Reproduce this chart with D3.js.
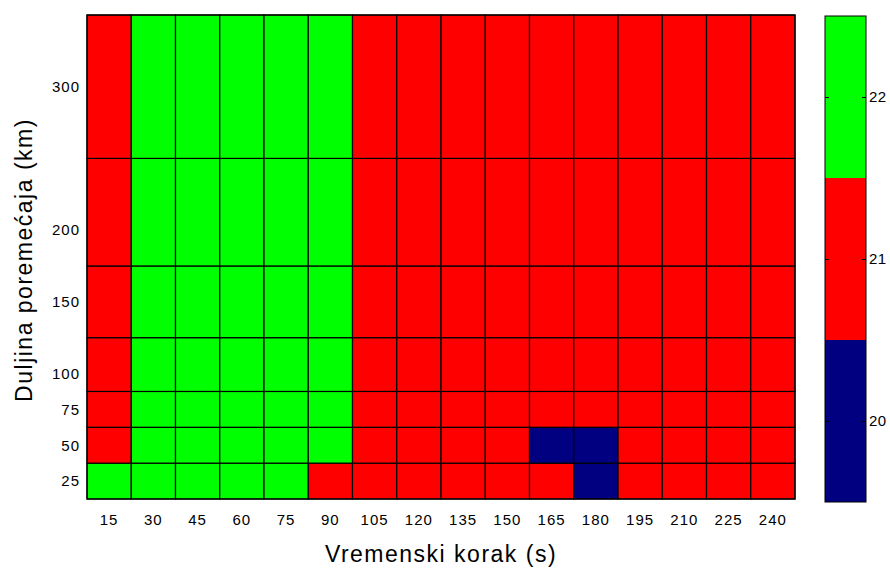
<!DOCTYPE html>
<html>
<head>
<meta charset="utf-8">
<script src="https://cdn.jsdelivr.net/npm/d3@7"></script>
<style>
  body { margin: 0; background: #fff; }
  text { font-family: "Liberation Sans", Arial, sans-serif; fill: #000; }
</style>
</head>
<body>
<script>
// time steps (s) along x, disturbance lengths (km) along y
var timeSteps = [15, 30, 45, 60, 75, 90, 105, 120, 135, 150, 165, 180, 195, 210, 225, 240];
var lengths = [25, 50, 75, 100, 150, 200, 300];
// one row per length, bottom (25) first
var values = [
  [22, 22, 22, 22, 22, 21, 21, 21, 21, 21, 21, 20, 21, 21, 21, 21],  // 25
  [21, 22, 22, 22, 22, 22, 21, 21, 21, 21, 20, 20, 21, 21, 21, 21],  // 50
  [21, 22, 22, 22, 22, 22, 21, 21, 21, 21, 21, 21, 21, 21, 21, 21],  // 75
  [21, 22, 22, 22, 22, 22, 21, 21, 21, 21, 21, 21, 21, 21, 21, 21],  // 100
  [21, 22, 22, 22, 22, 22, 21, 21, 21, 21, 21, 21, 21, 21, 21, 21],  // 150
  [21, 22, 22, 22, 22, 22, 21, 21, 21, 21, 21, 21, 21, 21, 21, 21],  // 200
  [21, 22, 22, 22, 22, 22, 21, 21, 21, 21, 21, 21, 21, 21, 21, 21]   // 300
];
var levels = [20, 21, 22];
var levelColors = ['#000080', '#ff0000', '#00ff00'];

var width = 890, height = 568;
var plot = {left: 87, right: 795, top: 15, bottom: 499};
var cbar = {left: 825, right: 866, top: 16, bottom: 502};
var tickFont = 15;

var svg = d3.select('body').append('svg')
  .attr('width', width)
  .attr('height', height);

var xScale = d3.scaleBand()
  .domain(timeSteps)
  .range([plot.left, plot.right]);

// cell edges sit halfway between neighbouring lengths
var yEdges = [12.5];
for (var i = 0; i < lengths.length - 1; i++) {
  yEdges.push((lengths[i] + lengths[i + 1]) / 2);
}
yEdges.push(350);

var yScale = d3.scaleLinear()
  .domain([yEdges[0], yEdges[yEdges.length - 1]])
  .range([plot.bottom, plot.top]);

var color = d3.scaleOrdinal().domain(levels).range(levelColors);

var cells = [];
values.forEach(function(row, r) {
  row.forEach(function(v, c) {
    cells.push({x: timeSteps[c], y0: yEdges[r], y1: yEdges[r + 1], v: v});
  });
});

svg.append('g')
  .selectAll('rect')
  .data(cells)
  .enter()
  .append('rect')
  .attr('x', function(d) { return xScale(d.x); })
  .attr('y', function(d) { return yScale(d.y1); })
  .attr('width', xScale.bandwidth())
  .attr('height', function(d) { return yScale(d.y0) - yScale(d.y1); })
  .attr('fill', function(d) { return color(d.v); })
  .attr('stroke', '#000')
  .attr('stroke-width', 1.2);

svg.append('rect')
  .attr('x', plot.left)
  .attr('y', plot.top)
  .attr('width', plot.right - plot.left)
  .attr('height', plot.bottom - plot.top)
  .attr('fill', 'none')
  .attr('stroke', '#000')
  .attr('stroke-width', 1.2);

function styleTicks(ax) {
  ax.select('.domain').remove();
  ax.selectAll('text')
    .attr('font-size', tickFont)
    .attr('font-family', '"Liberation Sans", Arial, sans-serif')
    .attr('fill', '#111')
    .style('letter-spacing', '1px');
}

// axes
var xAxis = svg.append('g')
  .attr('transform', 'translate(0,' + plot.bottom + ')')
  .call(d3.axisBottom(xScale).tickSize(0).tickPadding(15));
styleTicks(xAxis);
var yAxis = svg.append('g')
  .attr('transform', 'translate(' + plot.left + ',0)')
  .call(d3.axisLeft(yScale).tickValues(lengths).tickSize(0).tickPadding(7));
styleTicks(yAxis);

svg.append('text')
  .attr('x', (plot.left + plot.right) / 2)
  .attr('y', 562)
  .attr('text-anchor', 'middle')
  .attr('font-size', 23)
  .style('letter-spacing', '1.5px')
  .text('Vremenski korak (s)');

svg.append('text')
  .attr('transform', 'translate(32,' + ((plot.top + plot.bottom) / 2 + 3) + ') rotate(-90)')
  .attr('text-anchor', 'middle')
  .attr('font-size', 23)
  .style('letter-spacing', '1.5px')
  .text('Duljina poremećaja (km)');

// colorbar
var cScale = d3.scaleLinear()
  .domain([19.5, 22.5])
  .range([cbar.bottom, cbar.top]);

svg.append('g')
  .selectAll('rect')
  .data(levels)
  .enter()
  .append('rect')
  .attr('x', cbar.left)
  .attr('y', function(d) { return cScale(d + 0.5); })
  .attr('width', cbar.right - cbar.left)
  .attr('height', function(d) { return cScale(d - 0.5) - cScale(d + 0.5); })
  .attr('fill', function(d) { return color(d); });

svg.append('rect')
  .attr('x', cbar.left)
  .attr('y', cbar.top)
  .attr('width', cbar.right - cbar.left)
  .attr('height', cbar.bottom - cbar.top)
  .attr('fill', 'none')
  .attr('stroke', '#000')
  .attr('stroke-width', 1);

var cAxis = svg.append('g')
  .attr('transform', 'translate(' + cbar.right + ',0)')
  .call(d3.axisRight(cScale).tickValues(levels).tickSize(-4).tickPadding(3).tickFormat(d3.format('d')));
styleTicks(cAxis);
cAxis.selectAll('text').style('letter-spacing', '0.5px');
svg.append('g')
  .attr('transform', 'translate(' + cbar.left + ',0)')
  .call(d3.axisLeft(cScale).tickValues(levels).tickSize(-4).tickFormat(''))
  .select('.domain').remove();
</script>
</body>
</html>
